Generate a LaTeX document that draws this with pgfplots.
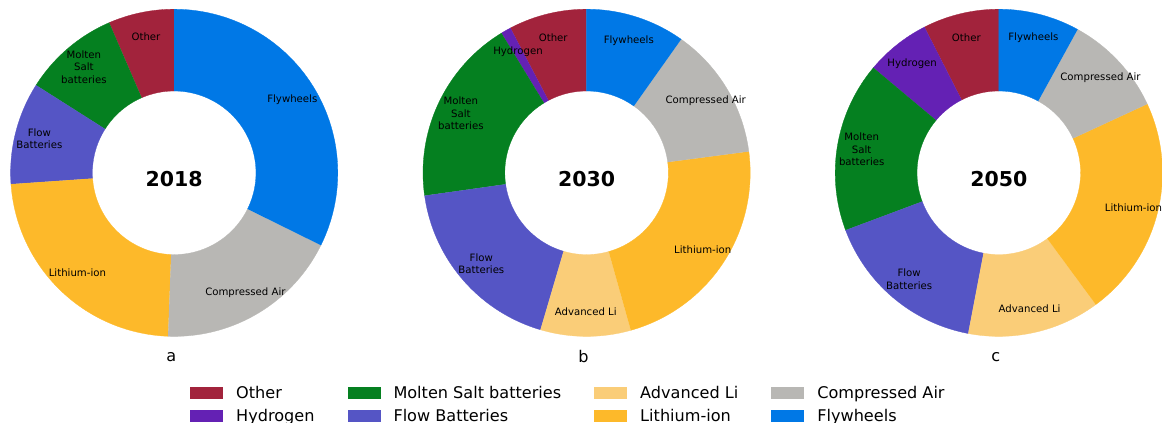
\documentclass[border=0pt]{standalone}
\usepackage{pgfplots}
\usepackage{pgfplotstable}
\pgfplotsset{compat=1.18}
\usepackage{fontspec}
\setmainfont{DejaVu Sans}

% slice colours, in table order
\definecolor{slice0}{RGB}{162,35,60}   % Other
\definecolor{slice1}{RGB}{100,33,180}  % Hydrogen
\definecolor{slice2}{RGB}{5,128,32}    % Molten Salt
\definecolor{slice3}{RGB}{85,85,197}   % Flow
\definecolor{slice4}{RGB}{250,205,120} % Advanced Li
\definecolor{slice5}{RGB}{253,185,42}  % Lithium-ion
\definecolor{slice6}{RGB}{184,183,180} % Compressed Air
\definecolor{slice7}{RGB}{0,120,230}   % Flywheels

% shares in percent
\pgfplotstableread[col sep=comma]{
tech,y2018,y2030,y2050
Other,6.5,7.7,7.5
Hydrogen,0,1.0,6.4
Molten Salt batteries,9.5,18.5,16.8
Flow Batteries,10.1,18.2,16.3
Advanced Li,0,8.9,13.1
Lithium-ion,23.3,22.7,21.8
Compressed Air,18.3,13.1,10.1
Flywheels,32.3,9.8,8.0
}\shares

% labels written on the rings
\expandafter\def\csname lbl0\endcsname{Other}
\expandafter\def\csname lbl1\endcsname{Hydrogen}
\expandafter\def\csname lbl2\endcsname{Molten\\Salt\\batteries}
\expandafter\def\csname lbl3\endcsname{Flow\\Batteries}
\expandafter\def\csname lbl4\endcsname{Advanced Li}
\expandafter\def\csname lbl5\endcsname{Lithium-ion}
\expandafter\def\csname lbl6\endcsname{Compressed Air}
\expandafter\def\csname lbl7\endcsname{Flywheels}

\tikzset{lbl/.style={font=\fontsize{10.15}{12.2}\selectfont, align=center, inner sep=0pt}}

\def\Ro{163.6}  % outer radius
\def\W{81.8}    % ring width
\def\Rl{139.1}  % label radius

% #1 column, #2 cx, #3 cy, #4 = 0 wedges / 1 labels  (counter-clockwise from the top)
\newcommand\donutpass[4]{%
  \def\tot{0}%
  \pgfplotsforeachungrouped \i in {0,...,7}{%
    \pgfplotstablegetelem{\i}{#1}\of\shares
    \pgfmathsetmacro\tot{\tot+\pgfplotsretval}}%
  \def\acc{0}%
  \pgfplotsforeachungrouped \i in {0,...,7}{%
    \pgfplotstablegetelem{\i}{#1}\of\shares
    \let\val\pgfplotsretval
    \pgfmathsetmacro\aS{90+(\acc/\tot)*360}%
    \pgfmathsetmacro\acc{\acc+\val}%
    \pgfmathsetmacro\dA{(\val/\tot)*360}%
    \ifdim\val pt>0pt
      \ifnum#4=0
        \edef\cmd{%
          \noexpand\addplot[fill=slice\i, draw=slice\i, line width=0.3pt, forget plot, domain=0:3, samples=181]
            ({#2+(\Ro-\W*min(max(x-1,0),1))*cos(\aS+\dA*(min(x,1)-max(x-2,0)))},
             {#3-(\Ro-\W*min(max(x-1,0),1))*sin(\aS+\dA*(min(x,1)-max(x-2,0)))});}%
      \else
        \pgfmathsetmacro\aM{\aS+\dA/2}%
        \pgfmathsetmacro\lx{#2+\Rl*cos(\aM)}%
        \pgfmathsetmacro\ly{#3-\Rl*sin(\aM)}%
        \edef\cmd{\noexpand\node[lbl] at (axis cs:\lx,\ly) {\noexpand\csname lbl\i\endcsname};}%
      \fi
      \cmd
    \fi}%
}
\newcommand\donut[3]{\donutpass{#1}{#2}{#3}{0}\donutpass{#1}{#2}{#3}{1}}

\begin{document}
\begin{tikzpicture}
\begin{axis}[
    name=ax,
    width=1162pt, height=423pt, scale only axis,
    xmin=0, xmax=1162, ymin=0, ymax=423, y dir=reverse,
    hide axis, clip=false,
    legend columns=4,
    legend cell align=left,
    legend image code/.code={\fill[#1] (0pt,-5.85pt) rectangle (33pt,5.85pt);},
    legend style={at={(axis cs:190,386.7)}, anchor=north west,
        draw=none, fill=none, inner sep=0pt,
        font=\fontsize{16.1}{19}\selectfont, row sep=11.6pt,
        nodes={inner sep=0pt, text height=11.7pt, text depth=0pt},
        /tikz/every odd column/.append style={column sep=13pt},
        /tikz/every even column/.append style={column sep=33pt}},
]
\donut{y2018}{174.2}{172.8}
\donut{y2030}{586.6}{172.8}
\donut{y2050}{998.8}{172.8}

\node[font=\fontsize{20.5}{20.5}\selectfont\bfseries, anchor=base] at (axis cs:174.2,186.7) {2018};
\node[font=\fontsize{20.5}{20.5}\selectfont\bfseries, anchor=base] at (axis cs:586.6,186.7) {2030};
\node[font=\fontsize{20.5}{20.5}\selectfont\bfseries, anchor=base] at (axis cs:998.8,186.7) {2050};

\node[font=\fontsize{16.1}{16.1}\selectfont] at (axis cs:171.2,356.7) {a};
\node[font=\fontsize{16.1}{16.1}\selectfont] at (axis cs:583.6,356.7) {b};
\node[font=\fontsize{16.1}{16.1}\selectfont] at (axis cs:995.8,356.7) {c};

% legend in the reference's column-major order, written row by row
\addlegendimage{fill=slice0, draw=none}\addlegendentry{Other}
\addlegendimage{fill=slice2, draw=none}\addlegendentry{Molten Salt batteries}
\addlegendimage{fill=slice4, draw=none}\addlegendentry{Advanced Li}
\addlegendimage{fill=slice6, draw=none}\addlegendentry{Compressed Air}
\addlegendimage{fill=slice1, draw=none}\addlegendentry{Hydrogen}
\addlegendimage{fill=slice3, draw=none}\addlegendentry{Flow Batteries}
\addlegendimage{fill=slice5, draw=none}\addlegendentry{Lithium-ion}
\addlegendimage{fill=slice7, draw=none}\addlegendentry{Flywheels}
\end{axis}
\pgfresetboundingbox
\useasboundingbox (ax.south west) rectangle (ax.north east);
\end{tikzpicture}
\end{document}
